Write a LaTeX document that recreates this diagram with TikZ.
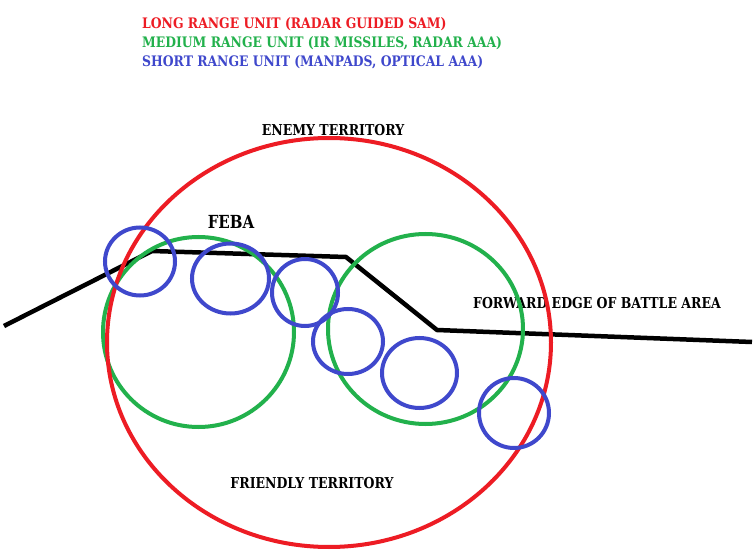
\documentclass[tikz,border=0pt]{standalone}
\usepackage{fontspec}
\newfontfamily\heavy[FakeStretch=0.835]{DejaVu Serif}
\newfontfamily\heavyL[FakeStretch=0.855]{DejaVu Serif}
\definecolor{pred}{RGB}{237,28,36}
\definecolor{pgreen}{RGB}{34,177,76}
\definecolor{pblue}{RGB}{63,72,204}
\tikzset{
  lbl/.style={inner sep=0pt, font=\heavy\bfseries\fontsize{15}{17}\selectfont},
  leg/.style={inner sep=0pt, anchor=base west, font=\heavyL\bfseries\fontsize{14.5}{17}\selectfont},
  ring/.style={line width=4pt},
  feba/.style={line width=4.5pt, black, line join=miter},
}
\begin{document}
\begin{tikzpicture}[x=1pt,y=-1pt]
\useasboundingbox (0,0) rectangle (756,556);
\fill[white] (0,0) rectangle (756,556);
% legend
\node[leg, text=pred] (t1) at (142,28.5) {LONG RANGE UNIT (RADAR GUIDED SAM)};
\node[leg, text=pgreen] (t2) at (142,47.5) {MEDIUM RANGE UNIT (IR MISSILES, RADAR AAA)};
\node[leg, text=pblue] (t3) at (142,66.5) {SHORT RANGE UNIT (MANPADS, OPTICAL AAA)};
% labels
\node[lbl, anchor=base] (enemy) at (333,136) {ENEMY TERRITORY};
\node[lbl, anchor=base, font=\heavy\bfseries\fontsize{18}{20}\selectfont] (feba) at (231,228.5) {FEBA};
\node[lbl, anchor=base] (fwd) at (597,309) {FORWARD EDGE OF BATTLE AREA};
\node[lbl, anchor=base] (friendly) at (312,488.5) {FRIENDLY TERRITORY};
% front line
\coordinate (p0) at (4,326);
\coordinate (p1) at (152,251);
\coordinate (p2) at (346,257);
\coordinate (p3) at (437,330);
\coordinate (p4) at (752,342);
\draw[feba] (p0) -- (p1) -- (p2) -- (p3) -- (p4);
% medium range
\draw[ring, pgreen] (198.5,332) ellipse [x radius=95.5pt, y radius=95pt];
\draw[ring, pgreen] (425.5,329) ellipse [x radius=97.5pt, y radius=95pt];
% long range
\draw[ring, pred] (329,342.5) ellipse [x radius=222pt, y radius=204.5pt];
% short range
\draw[ring, pblue] (140,261.5) ellipse [x radius=35pt, y radius=34pt];
\draw[ring, pblue] (230.5,278.5) ellipse [x radius=38.5pt, y radius=35pt];
\draw[ring, pblue] (305,292.5) ellipse [x radius=33pt, y radius=33.5pt];
\draw[ring, pblue] (348,341.5) ellipse [x radius=35pt, y radius=32.5pt];
\draw[ring, pblue] (419.5,373) ellipse [x radius=37.5pt, y radius=35pt];
\draw[ring, pblue] (514,413) ellipse [x radius=35pt, y radius=35pt];
\end{tikzpicture}
\end{document}
